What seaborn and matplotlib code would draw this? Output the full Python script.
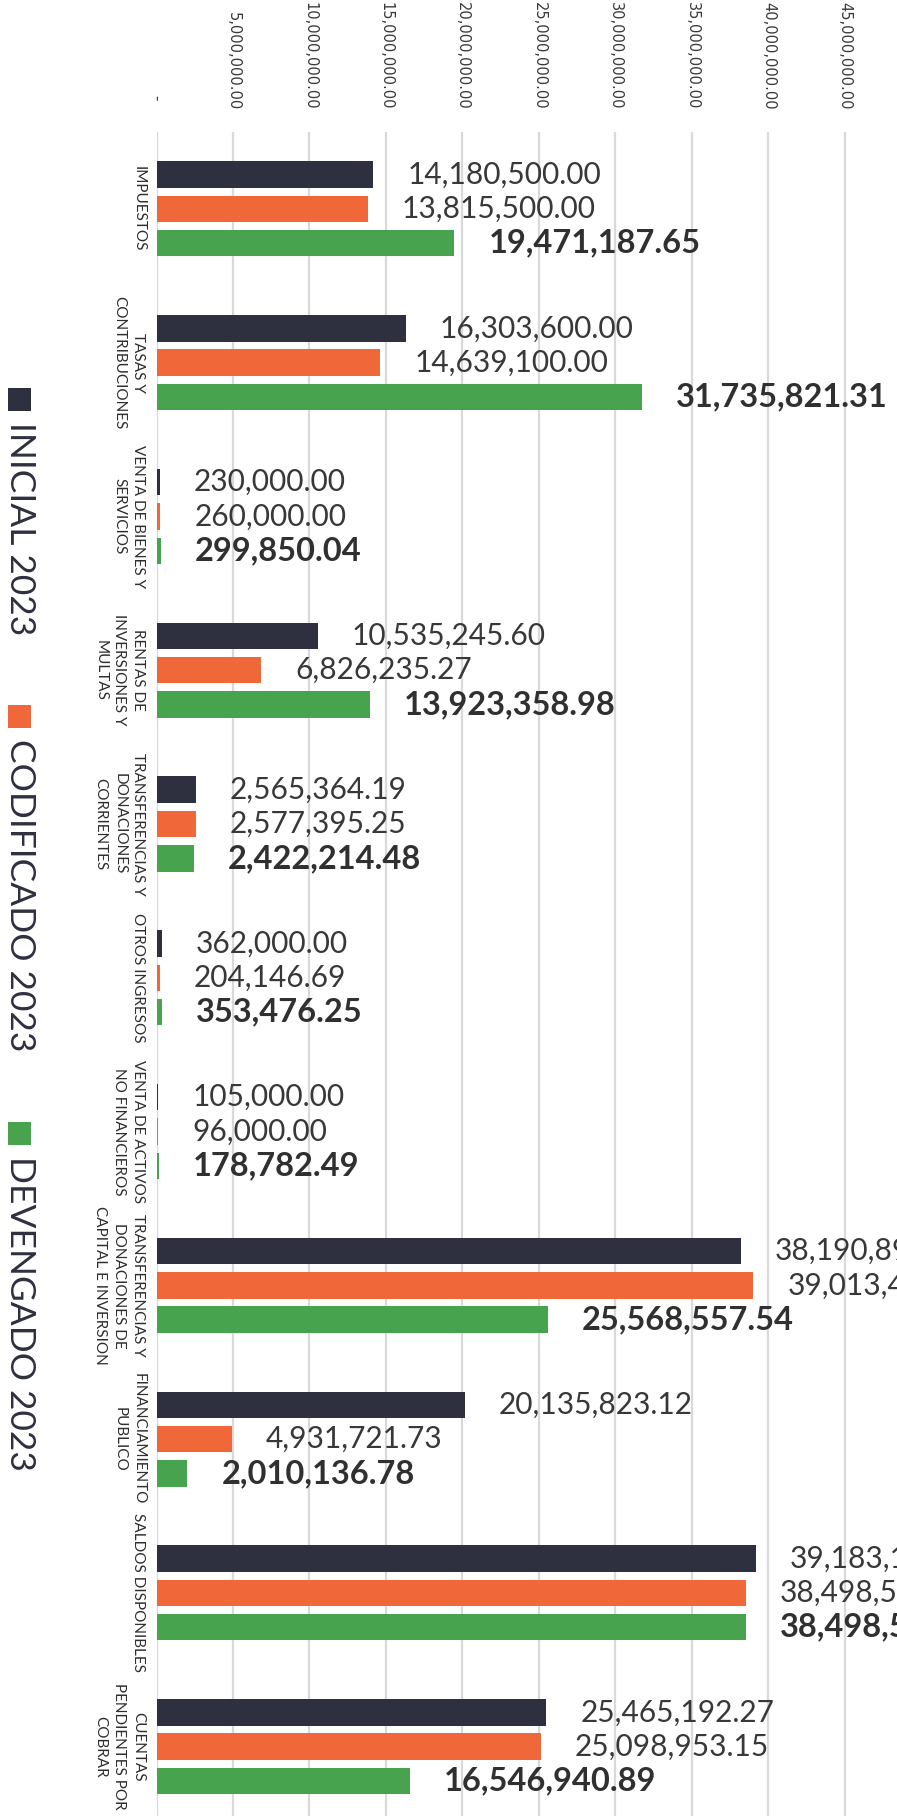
import matplotlib
matplotlib.use("Agg")
import matplotlib.pyplot as plt
import seaborn as sns
import pandas as pd
from matplotlib.patches import Rectangle

# ---- data -------------------------------------------------------------
categorias = [
    "IMPUESTOS",
    "TASAS Y\nCONTRIBUCIONES",
    "VENTA DE BIENES Y\nSERVICIOS",
    "RENTAS DE\nINVERSIONES Y\nMULTAS",
    "TRANSFERENCIAS Y\nDONACIONES\nCORRIENTES",
    "OTROS INGRESOS",
    "VENTA DE ACTIVOS\nNO FINANCIEROS",
    "TRANSFERENCIAS Y\nDONACIONES DE\nCAPITAL E INVERSION",
    "FINANCIAMIENTO\nPUBLICO",
    "SALDOS DISPONIBLES",
    "CUENTAS\nPENDIENTES POR\nCOBRAR",
]
inicial = [14180500.00, 16303600.00, 230000.00, 10535245.60, 2565364.19,
           362000.00, 105000.00, 38190894.06, 20135823.12, 39183162.71,
           25465192.27]
codificado = [13815500.00, 14639100.00, 260000.00, 6826235.27, 2577395.25,
              204146.69, 96000.00, 39013436.33, 4931721.73, 38498547.02,
              25098953.15]
devengado = [19471187.65, 31735821.31, 299850.04, 13923358.98, 2422214.48,
             353476.25, 178782.49, 25568557.54, 2010136.78, 38498547.02,
             16546940.89]
series = ["INICIAL 2023", "CODIFICADO 2023", "DEVENGADO 2023"]
colores = ["#2e2f3f", "#f0683a", "#47a34d"]
ticks = [0, 5e6, 10e6, 15e6, 20e6, 25e6, 30e6, 35e6, 40e6, 45e6]
tick_labels = ["-  ", "5,000,000.00", "10,000,000.00", "15,000,000.00",
               "20,000,000.00", "25,000,000.00", "30,000,000.00",
               "35,000,000.00", "40,000,000.00", "45,000,000.00"]

df = pd.DataFrame({
    "rubro": categorias * 3,
    "serie": [s for s in series for _ in categorias],
    "valor": inicial + codificado + devengado,
})

# ---- figure -----------------------------------------------------------
W, H = 897, 1816
fig = plt.figure(figsize=(W / 100, H / 100), dpi=100)
fig.patch.set_facecolor("white")

ax_left, ax_top, ax_bottom = 156.5, 132.0, 1823.6
ax = fig.add_axes([ax_left / W, (H - ax_bottom) / H,
                   1 - ax_left / W, (ax_bottom - ax_top) / H])

sns.barplot(data=df, x="valor", y="rubro", hue="serie", orient="h",
            palette=colores, saturation=1, width=0.67, gap=0.23,
            errorbar=None, legend=False, ax=ax)

ax.set_xlim(0, 48.4e6)
ax.set_xlabel("")
ax.set_ylabel("")
for s in ax.spines.values():
    s.set_visible(False)
ax.set_axisbelow(True)
ax.grid(axis="x", color="#d9d9d9", linewidth=1.6)
ax.grid(axis="y", visible=False)

# value axis on top, rotated labels
ax.xaxis.tick_top()
ax.set_xticks(ticks)
ax.set_xticklabels(tick_labels, rotation=-90, fontsize=10.5,
                   family="DejaVu Sans", color="#3a3a3a")
ax.tick_params(axis="x", length=0, pad=16)

# category labels, rotated
ax.tick_params(axis="y", length=0, pad=8)
for lbl in ax.get_yticklabels():
    lbl.set_rotation(-90)
    lbl.set_va("center")
    lbl.set_ha("right")
    lbl.set_multialignment("center")
    lbl.set_family("Lato")
    lbl.set_fontsize(11)
    lbl.set_linespacing(1.45)
    lbl.set_color("#2e2e2e")

# value labels
for cont, vals, bold in zip(ax.containers, [inicial, codificado, devengado],
                            [False, False, True]):
    ax.bar_label(cont, labels=[f"{v:,.2f}" for v in vals], padding=24.5,
                 fontsize=23.5 if bold else 21.5,
                 fontweight="bold" if bold else "normal",
                 family="Lato", color="#303030" if bold else "#383838")

# rotated legend down the left margin
fig.canvas.draw()
renderer = fig.canvas.get_renderer()
y = 388.0
sq = 23.0
for name, col in zip(series, colores):
    fig.patches.append(Rectangle((8 / W, (H - y - sq) / H), sq / W, sq / H,
                                 transform=fig.transFigure, facecolor=col,
                                 edgecolor="none"))
    t = fig.text(20 / W, (H - y - sq - 11) / H, name, rotation=-90,
                 ha="center", va="top", fontsize=25.5, family="Lato",
                 color="#2e2f3f")
    ext = t.get_window_extent(renderer)
    y = y + sq + 11 + ext.height + 70

fig.savefig("out.png", dpi=100, facecolor="white")
